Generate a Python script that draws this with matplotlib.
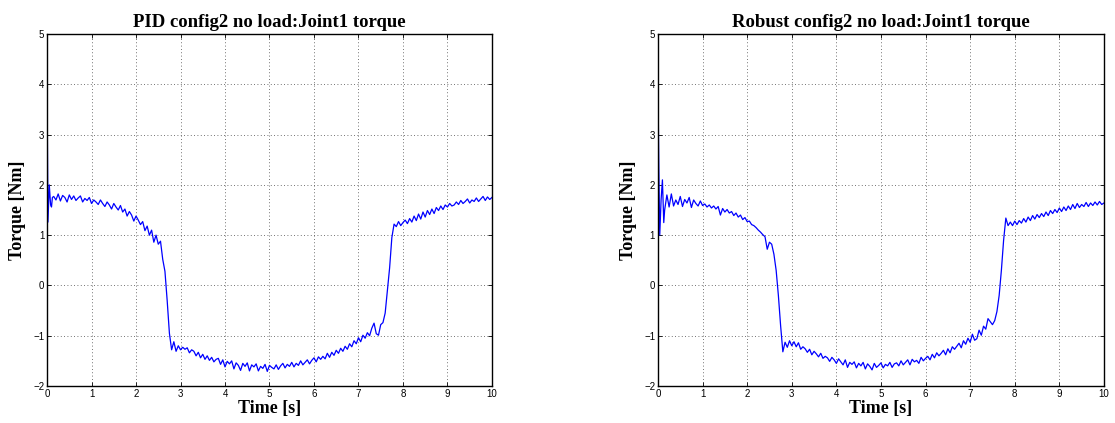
#!/usr/bin/env python3
"""Joint1 torque, config2 no load: PID vs robust controller."""

import numpy as np
import matplotlib
matplotlib.use("Agg")
import matplotlib.pyplot as plt  # noqa: E402

TITLES = ["PID config2 no load:Joint1 torque",
          "Robust config2 no load:Joint1 torque"]
X_TICKS = [0, 1, 2, 3, 4, 5, 6, 7, 8, 9, 10]
Y_TICKS = [-2, -1, 0, 1, 2, 3, 4, 5]

# first few samples (start-up spike), then a regular 0.05 s grid from 0.15 s
pid_t0 = [0.0, 0.01, 0.02, 0.03, 0.05, 0.08, 0.10, 0.12]
pid_v0 = [4.0, 2.6, 1.26, 1.5, 2.0, 1.6, 1.56, 1.75]
pid_grid = [
    1.77, 1.70, 1.82, 1.68, 1.79, 1.75, 1.66, 1.80, 1.71, 1.78,
    1.69, 1.74, 1.78, 1.66, 1.73, 1.69, 1.75, 1.63, 1.70, 1.66,
    1.61, 1.70, 1.63, 1.57, 1.66, 1.60, 1.52, 1.63, 1.56, 1.50,
    1.59, 1.46, 1.52, 1.38, 1.47, 1.40, 1.28, 1.38, 1.30, 1.21,
    1.27, 1.09, 1.18, 1.00, 1.10, 0.86, 1.00, 0.82, 0.88, 0.52,
    0.28, -0.30, -0.95, -1.28, -1.12, -1.31, -1.20, -1.28, -1.23, -1.27,
    -1.24, -1.34, -1.28, -1.31, -1.40, -1.33, -1.44, -1.37, -1.47, -1.40,
    -1.49, -1.43, -1.52, -1.47, -1.45, -1.57, -1.48, -1.62, -1.51, -1.56,
    -1.50, -1.66, -1.54, -1.59, -1.69, -1.55, -1.61, -1.54, -1.70, -1.58,
    -1.62, -1.56, -1.70, -1.61, -1.65, -1.57, -1.71, -1.59, -1.63, -1.66,
    -1.58, -1.67, -1.60, -1.55, -1.64, -1.57, -1.61, -1.53, -1.62, -1.55,
    -1.59, -1.50, -1.58, -1.53, -1.48, -1.56, -1.49, -1.44, -1.52, -1.42,
    -1.47, -1.41, -1.46, -1.35, -1.43, -1.33, -1.39, -1.29, -1.35, -1.25,
    -1.31, -1.21, -1.27, -1.16, -1.22, -1.10, -1.16, -1.04, -1.12, -0.99,
    -1.05, -0.94, -1.00, -0.85, -0.75, -0.96, -0.99, -0.78, -0.74, -0.55,
    -0.10, 0.35, 0.95, 1.22, 1.17, 1.27, 1.19, 1.25, 1.30, 1.23,
    1.33, 1.26, 1.38, 1.29, 1.42, 1.32, 1.46, 1.36, 1.49, 1.41,
    1.52, 1.43, 1.55, 1.49, 1.58, 1.51, 1.60, 1.56, 1.63, 1.58,
    1.60, 1.66, 1.61, 1.69, 1.63, 1.67, 1.72, 1.64, 1.70, 1.67,
    1.74, 1.67, 1.72, 1.77, 1.69, 1.76, 1.71, 1.75,
]

rob_t0 = [0.0, 0.02, 0.04, 0.07, 0.10, 0.13]
rob_v0 = [4.0, 2.3, 1.0, 1.7, 2.1, 1.25]
rob_grid = [
    1.50, 1.80, 1.56, 1.82, 1.58, 1.70, 1.61, 1.77, 1.57, 1.71,
    1.64, 1.75, 1.55, 1.70, 1.63, 1.58, 1.68, 1.59, 1.62, 1.56,
    1.60, 1.54, 1.58, 1.52, 1.57, 1.40, 1.53, 1.46, 1.51, 1.44,
    1.47, 1.39, 1.44, 1.36, 1.40, 1.31, 1.35, 1.27, 1.28, 1.21,
    1.19, 1.15, 1.10, 1.06, 1.01, 0.97, 0.72, 0.86, 0.82, 0.62,
    0.30, -0.20, -0.80, -1.32, -1.13, -1.23, -1.10, -1.20, -1.12, -1.22,
    -1.14, -1.27, -1.22, -1.26, -1.33, -1.27, -1.38, -1.31, -1.36, -1.42,
    -1.35, -1.45, -1.41, -1.44, -1.51, -1.43, -1.48, -1.55, -1.46, -1.52,
    -1.58, -1.48, -1.63, -1.53, -1.57, -1.52, -1.64, -1.55, -1.60, -1.53,
    -1.66, -1.56, -1.61, -1.68, -1.55, -1.63, -1.59, -1.54, -1.64, -1.57,
    -1.60, -1.53, -1.63, -1.56, -1.54, -1.60, -1.50, -1.58, -1.53, -1.48,
    -1.58, -1.47, -1.52, -1.49, -1.55, -1.43, -1.50, -1.45, -1.41, -1.48,
    -1.37, -1.44, -1.34, -1.40, -1.35, -1.29, -1.38, -1.26, -1.34, -1.22,
    -1.27, -1.21, -1.15, -1.24, -1.10, -1.17, -1.05, -1.13, -0.97, -1.09,
    -1.06, -0.89, -0.99, -0.81, -0.87, -0.66, -0.72, -0.78, -0.70, -0.52,
    -0.20, 0.30, 0.90, 1.34, 1.19, 1.26, 1.19, 1.28, 1.21, 1.29,
    1.24, 1.33, 1.26, 1.36, 1.29, 1.39, 1.32, 1.41, 1.35, 1.43,
    1.37, 1.46, 1.39, 1.49, 1.43, 1.51, 1.45, 1.54, 1.47, 1.56,
    1.49, 1.58, 1.51, 1.61, 1.53, 1.63, 1.55, 1.61, 1.57, 1.65,
    1.57, 1.64, 1.59, 1.66, 1.60, 1.67, 1.61, 1.64,
]


def series(t0, v0, grid):
    t = np.concatenate([t0, np.linspace(0.15, 10.0, len(grid))])
    return t, np.concatenate([v0, grid])


def main():
    plt.rcParams["font.family"] = ["Liberation Sans", "DejaVu Sans"]
    serif = ["Liberation Serif", "DejaVu Serif"]

    fig = plt.figure(figsize=(11.15, 4.23), dpi=100)
    ax_l = fig.add_axes([0.0422, 0.0875, 0.399, 0.832])
    ax_r = fig.add_axes([0.5901, 0.0875, 0.400, 0.832])

    data = [series(pid_t0, pid_v0, pid_grid), series(rob_t0, rob_v0, rob_grid)]

    for ax, title, (t, v) in zip([ax_l, ax_r], TITLES, data):
        ax.plot(t, v, color="#0000ff", linewidth=0.9)
        ax.set_xlim(0, 10)
        ax.set_ylim(-2, 5)
        ax.set_xticks(X_TICKS)
        ax.set_yticks(Y_TICKS)
        ax.grid(True, color="#444444", linestyle=(0, (1, 3)), linewidth=0.6)
        ax.tick_params(direction="in", top=True, right=True, length=3,
                       width=0.6, labelsize=7, pad=2)
        for s in ax.spines.values():
            s.set_linewidth(1.0)
        ax.set_title(title, family=serif, fontweight="bold", fontsize=13.5,
                     pad=5)
        ax.set_xlabel("Time [s]", family=serif, fontweight="bold", fontsize=13,
                      labelpad=1)
        ax.set_ylabel("Torque [Nm]", family=serif, fontweight="bold",
                      fontsize=13, labelpad=5)

    fig.savefig("out.png", dpi=100)


if __name__ == "__main__":
    main()
